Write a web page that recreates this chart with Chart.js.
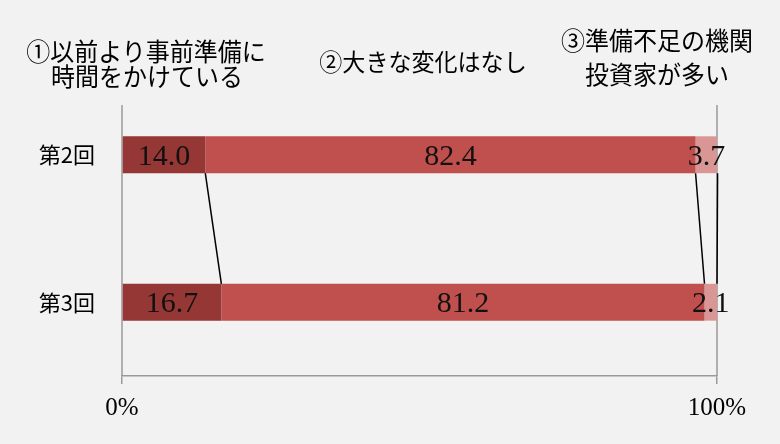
<!DOCTYPE html>
<html>
<head>
<meta charset="utf-8">
<script src="https://cdn.jsdelivr.net/npm/chart.js@4.4.1/dist/chart.umd.min.js"></script>
<style>
  html, body { margin: 0; padding: 0; background: #F2F2F2; }
  #wrap { position: relative; width: 780px; height: 444px; }
  .hdr { position: absolute; font-family: "Noto Sans CJK JP", sans-serif; font-weight: 400; color: #000; white-space: nowrap; text-align: center; transform: translateX(-50%) scaleX(0.96); line-height: 1; }
</style>
</head>
<body>
<div id="wrap">
  <canvas id="c"></canvas>
  <div class="hdr" style="left:146px; top:38px; font-size:25px;">①以前より事前準備に</div>
  <div class="hdr" style="left:147px; top:63px; font-size:25px;">時間をかけている</div>
  <div class="hdr" style="left:423px; top:49px; font-size:24px;">②大きな変化はなし</div>
  <div class="hdr" style="left:657px; top:27px; font-size:25px;">③準備不足の機関</div>
  <div class="hdr" style="left:657px; top:61px; font-size:25px;">投資家が多い</div>
</div>
<script>
const categories = ['第2回', '第3回'];
const seriesNames = ['①以前より事前準備に時間をかけている', '②大きな変化はなし', '③準備不足の機関投資家が多い'];
const series1 = [14.0, 16.7];
const series2 = [82.4, 81.2];
const series3 = [3.7, 2.1];
const xTickValues = [0, 100];
const colors = ['#953735', '#C0504D', '#D99694'];

const decorPlugin = {
  id: 'decor',
  beforeDatasetsDraw(chart) {
    const ctx = chart.ctx, x = chart.scales.x, a = chart.chartArea;
    ctx.save();
    ctx.strokeStyle = '#9A9A9A';
    ctx.lineWidth = 1.5;
    xTickValues.forEach(v => {
      const px = x.getPixelForValue(v);
      ctx.beginPath();
      ctx.moveTo(px, a.top + 24);
      ctx.lineTo(px, a.bottom);
      ctx.stroke();
    });
    ctx.restore();
  },
  afterDatasetsDraw(chart) {
    const ctx = chart.ctx;
    ctx.save();
    ctx.strokeStyle = '#000';
    ctx.lineWidth = 1.5;
    chart.data.datasets.forEach((ds, i) => {
      const els = chart.getDatasetMeta(i).data;
      for (let j = 0; j < els.length - 1; j++) {
        const a = els[j], b = els[j + 1];
        ctx.beginPath();
        ctx.moveTo(a.x, a.y + a.height / 2);
        ctx.lineTo(b.x, b.y - b.height / 2);
        ctx.stroke();
      }
    });
    ctx.fillStyle = '#111';
    ctx.font = '30px "Liberation Serif", serif';
    ctx.textAlign = 'center';
    ctx.textBaseline = 'middle';
    chart.data.datasets.forEach((ds, i) => {
      chart.getDatasetMeta(i).data.forEach((el, j) => {
        const cx = (el.x + el.base) / 2;
        ctx.fillText(ds.data[j].toFixed(1), cx, el.y + 2);
      });
    });
    ctx.restore();
  }
};

new Chart(document.getElementById('c'), {
  type: 'bar',
  data: {
    labels: categories,
    datasets: [
      { label: seriesNames[0], data: series1, backgroundColor: colors[0] },
      { label: seriesNames[1], data: series2, backgroundColor: colors[1] },
      { label: seriesNames[2], data: series3, backgroundColor: colors[2] }
    ]
  },
  options: {
    indexAxis: 'y',
    responsive: true,
    maintainAspectRatio: false,
    animation: false,
    layout: { padding: { top: 81, right: 63, left: 0, bottom: 0 } },
    datasets: { bar: { categoryPercentage: 1, barPercentage: 0.25, borderWidth: 0 } },
    plugins: { legend: { display: false }, tooltip: { enabled: false } },
    scales: {
      x: {
        stacked: true,
        min: 0,
        max: 100,
        afterBuildTicks(s) { s.ticks = xTickValues.map(v => ({ value: v })); },
        afterFit(s) { s.height = 68; },
        ticks: {
          padding: 9,
          color: '#000',
          font: { family: '"Liberation Serif", serif', size: 25 },
          callback: v => v + '%'
        },
        grid: { drawOnChartArea: false, drawTicks: true, tickLength: 8, color: '#9A9A9A', lineWidth: 1.5 },
        border: { display: true, color: '#9A9A9A', width: 1.5 }
      },
      y: {
        stacked: true,
        afterFit(s) { s.width = 122; },
        ticks: {
          padding: 27,
          color: '#000',
          font: { family: '"Noto Sans CJK JP", sans-serif', size: 22 }
        },
        grid: { display: false, drawTicks: false },
        border: { display: false }
      }
    }
  },
  plugins: [decorPlugin]
});
</script>
</body>
</html>
